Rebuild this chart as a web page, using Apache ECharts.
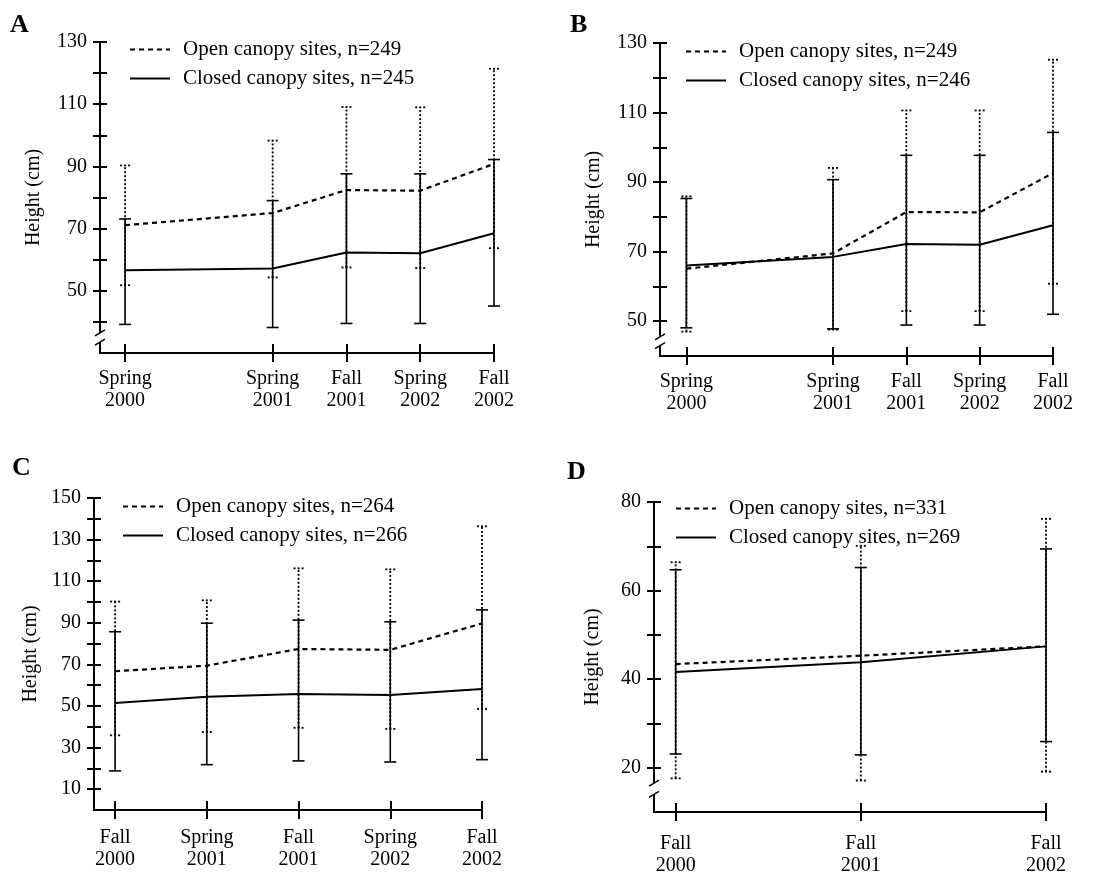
<!DOCTYPE html>
<html><head><meta charset="utf-8">
<script src="https://cdn.jsdelivr.net/npm/echarts@6/dist/echarts.min.js"></script>
<style>html,body{margin:0;padding:0;background:#fff}#c{width:1117px;height:877px}</style>
</head><body><div id="c"></div>
<script>
// ---------- Panel A ----------
const aTimes = [0, 2, 3, 4, 5];
const aLabels = ['Spring\n2000', 'Spring\n2001', 'Fall\n2001', 'Spring\n2002', 'Fall\n2002'];
const aOpenName = 'Open canopy sites, n=249';
const aClosedName = 'Closed canopy sites, n=245';
const aOpenMean = [71.1, 75.0, 82.4, 82.2, 90.8];
const aOpenLow = [51.8, 54.3, 57.5, 57.3, 63.7];
const aOpenHigh = [90.3, 98.3, 109.1, 109.0, 121.4];
const aClosedMean = [56.6, 57.2, 62.3, 62.1, 68.5];
const aClosedLow = [39.2, 38.2, 39.5, 39.5, 45.1];
const aClosedHigh = [73.1, 79.0, 87.6, 87.6, 92.2];
const aYTicks = [40, 50, 60, 70, 80, 90, 100, 110, 120, 130];
const aYLabels = [50, 70, 90, 110, 130];

// ---------- Panel B ----------
const bTimes = [0, 2, 3, 4, 5];
const bLabels = ['Spring\n2000', 'Spring\n2001', 'Fall\n2001', 'Spring\n2002', 'Fall\n2002'];
const bOpenName = 'Open canopy sites, n=249';
const bClosedName = 'Closed canopy sites, n=246';
const bOpenMean = [65.1, 69.5, 81.4, 81.3, 92.6];
const bOpenLow = [47.0, 47.6, 52.9, 52.9, 60.8];
const bOpenHigh = [85.9, 94.1, 110.6, 110.6, 125.2];
const bClosedMean = [66.0, 68.5, 72.2, 72.0, 77.6];
const bClosedLow = [48.1, 47.8, 48.9, 48.9, 52.0];
const bClosedHigh = [85.3, 90.7, 97.7, 97.7, 104.3];
const bYTicks = [50, 60, 70, 80, 90, 100, 110, 120, 130];
const bYLabels = [50, 70, 90, 110, 130];

// ---------- Panel C ----------
const cTimes = [0, 1, 2, 3, 4];
const cLabels = ['Fall\n2000', 'Spring\n2001', 'Fall\n2001', 'Spring\n2002', 'Fall\n2002'];
const cOpenName = 'Open canopy sites, n=264';
const cClosedName = 'Closed canopy sites, n=266';
const cOpenMean = [66.7, 69.4, 77.4, 77.0, 89.7];
const cOpenLow = [35.9, 37.5, 39.5, 39.0, 48.6];
const cOpenHigh = [100.2, 100.8, 116.2, 115.7, 136.4];
const cClosedMean = [51.5, 54.5, 55.8, 55.3, 58.2];
const cClosedLow = [18.8, 21.8, 23.6, 23.1, 24.2];
const cClosedHigh = [85.7, 89.8, 91.3, 90.5, 96.2];
const cYTicks = [10, 20, 30, 40, 50, 60, 70, 80, 90, 100, 110, 120, 130, 140, 150];
const cYLabels = [10, 30, 50, 70, 90, 110, 130, 150];

// ---------- Panel D ----------
const dTimes = [0, 2, 4];
const dLabels = ['Fall\n2000', 'Fall\n2001', 'Fall\n2002'];
const dOpenName = 'Open canopy sites, n=331';
const dClosedName = 'Closed canopy sites, n=269';
const dOpenMean = [43.4, 45.3, 47.4];
const dOpenLow = [17.6, 17.1, 19.1];
const dOpenHigh = [66.4, 70.1, 76.2];
const dClosedMean = [41.6, 43.8, 47.4];
const dClosedLow = [23.1, 22.9, 25.9];
const dClosedHigh = [64.7, 65.2, 69.4];
const dYTicks = [20, 30, 40, 50, 60, 70, 80];
const dYLabels = [20, 40, 60, 80];

const FONT = '"Liberation Serif", "DejaVu Serif", serif';

const panels = [
  { letter: 'A', times: aTimes, labels: aLabels, openName: aOpenName, closedName: aClosedName,
    om: aOpenMean, ol: aOpenLow, oh: aOpenHigh, cm: aClosedMean, cl: aClosedLow, ch: aClosedHigh,
    yTicks: aYTicks, yLabels: aYLabels, ymin: 30, ymax: 130, xmin: -0.34, xmax: 5, brk: [33.5, 36.5],
    grid: { left: 100, top: 42, width: 394, height: 311 }, letterPos: [10, 12],
    legendPos: [129, 39], nameGap: 56, labelMargin: 15 },
  { letter: 'B', times: bTimes, labels: bLabels, openName: bOpenName, closedName: bClosedName,
    om: bOpenMean, ol: bOpenLow, oh: bOpenHigh, cm: bClosedMean, cl: bClosedLow, ch: bClosedHigh,
    yTicks: bYTicks, yLabels: bYLabels, ymin: 40, ymax: 130, xmin: -0.36, xmax: 5, brk: [43, 45.5],
    grid: { left: 660, top: 43, width: 393, height: 313 }, letterPos: [570, 12],
    legendPos: [685, 41], nameGap: 56, labelMargin: 15 },
  { letter: 'C', times: cTimes, labels: cLabels, openName: cOpenName, closedName: cClosedName,
    om: cOpenMean, ol: cOpenLow, oh: cOpenHigh, cm: cClosedMean, cl: cClosedLow, ch: cClosedHigh,
    yTicks: cYTicks, yLabels: cYLabels, ymin: 0, ymax: 150, xmin: -0.23, xmax: 4, brk: null,
    grid: { left: 94, top: 498, width: 388, height: 312 }, letterPos: [12, 455],
    legendPos: [122, 496], nameGap: 53, labelMargin: 17 },
  { letter: 'D', times: dTimes, labels: dLabels, openName: dOpenName, closedName: dClosedName,
    om: dOpenMean, ol: dOpenLow, oh: dOpenHigh, cm: dClosedMean, cl: dClosedLow, ch: dClosedHigh,
    yTicks: dYTicks, yLabels: dYLabels, ymin: 10, ymax: 80, xmin: -0.234, xmax: 4, brk: [14, 16.5],
    grid: { left: 654, top: 502, width: 392, height: 310 }, letterPos: [567, 459],
    legendPos: [675, 498], nameGap: 51, labelMargin: 21 }
];

function errRender(dotted) {
  return function (params, api) {
    const x = api.value(0), lo = api.value(1), hi = api.value(2);
    const pLo = api.coord([x, lo]), pHi = api.coord([x, hi]);
    const w = dotted ? 5 : 6;
    const style = { stroke: '#000', lineWidth: dotted ? 1.8 : 1.6, lineDash: dotted ? [2, 2] : null, fill: null };
    return { type: 'group', children: [
      { type: 'line', shape: { x1: pLo[0], y1: pLo[1], x2: pHi[0], y2: pHi[1] }, style: style },
      { type: 'line', shape: { x1: pLo[0] - w, y1: pLo[1], x2: pLo[0] + w, y2: pLo[1] }, style: style },
      { type: 'line', shape: { x1: pHi[0] - w, y1: pHi[1], x2: pHi[0] + w, y2: pHi[1] }, style: style }
    ]};
  };
}

const option = { animation: false, backgroundColor: '#fff', grid: [], xAxis: [], yAxis: [], series: [], legend: [], title: [] };

panels.forEach(function (p, i) {
  option.grid.push(Object.assign({ containLabel: false, outerBoundsMode: 'none' }, p.grid));
  const labelMap = {};
  p.times.forEach(function (t, k) { labelMap[t] = p.labels[k]; });
  // main x axis (outside ticks + labels)
  option.xAxis.push({
    type: 'value', gridIndex: i, position: 'bottom', offset: 0, min: p.xmin, max: p.xmax, splitLine: { show: false },
    axisLine: { show: true, onZero: false, lineStyle: { color: '#000', width: 2 } },
    axisTick: { show: true, customValues: p.times, length: 9, lineStyle: { color: '#000', width: 2 } },
    axisLabel: { show: true, customValues: p.times, margin: p.labelMargin, color: '#000',
      fontFamily: FONT, fontSize: 20, lineHeight: 22, formatter: function (v) { return labelMap[v] || ''; } }
  });
  // inner x axis (inside ticks)
  option.xAxis.push({
    type: 'value', gridIndex: i, position: 'bottom', offset: 0, min: p.xmin, max: p.xmax, splitLine: { show: false },
    axisLine: { show: false, onZero: false },
    axisTick: { show: true, inside: true, customValues: p.times, length: 9, lineStyle: { color: '#000', width: 2 } },
    axisLabel: { show: false }
  });
  option.yAxis.push({
    type: 'value', gridIndex: i, position: 'left', offset: 0, min: p.ymin, max: p.ymax, splitLine: { show: false },
    name: 'Height (cm)', nameLocation: 'middle', nameGap: p.nameGap,
    nameTextStyle: { fontFamily: FONT, fontSize: 20, color: '#000' },
    axisLine: { show: true, onZero: false, lineStyle: { color: '#000', width: 2 } },
    axisTick: { show: true, customValues: p.yTicks, length: 7, lineStyle: { color: '#000', width: 2 } },
    axisLabel: { show: true, customValues: p.yLabels, margin: 13, color: '#000', fontFamily: FONT, fontSize: 20 }
  });
  option.yAxis.push({
    type: 'value', gridIndex: i, position: 'left', offset: 0, min: p.ymin, max: p.ymax, splitLine: { show: false },
    axisLine: { show: false, onZero: false },
    axisTick: { show: true, inside: true, customValues: p.yTicks, length: 7, lineStyle: { color: '#000', width: 2 } },
    axisLabel: { show: false }
  });
  const xi = i * 2, yi = i * 2;
  const openErr = p.times.map(function (t, k) { return [t, p.ol[k], p.oh[k]]; });
  const closedErr = p.times.map(function (t, k) { return [t, p.cl[k], p.ch[k]]; });
  option.series.push({
    type: 'custom', xAxisIndex: xi, yAxisIndex: yi, renderItem: errRender(true), data: openErr,
    encode: { x: 0, y: [1, 2] }, clip: false, z: 2, silent: true
  });
  option.series.push({
    type: 'custom', xAxisIndex: xi, yAxisIndex: yi, renderItem: errRender(false), data: closedErr,
    encode: { x: 0, y: [1, 2] }, clip: false, z: 3, silent: true
  });
  option.series.push({
    type: 'line', name: p.openName, xAxisIndex: xi, yAxisIndex: yi, symbol: 'none', showSymbol: false, z: 4,
    data: p.times.map(function (t, k) { return [t, p.om[k]]; }),
    lineStyle: { color: '#000', width: 2.2, type: [5, 4] }, itemStyle: { color: '#000' }
  });
  option.series.push({
    type: 'line', name: p.closedName, xAxisIndex: xi, yAxisIndex: yi, symbol: 'none', showSymbol: false, z: 5,
    data: p.times.map(function (t, k) { return [t, p.cm[k]]; }),
    lineStyle: { color: '#000', width: 2, type: 'solid' }, itemStyle: { color: '#000' }
  });
  option.legend.push({
    data: [p.openName, p.closedName], orient: 'vertical', left: p.legendPos[0], top: p.legendPos[1],
    itemWidth: 40, itemHeight: 20, itemGap: 8, padding: 0, selectedMode: false,
    itemStyle: { opacity: 0 },
    lineStyle: { color: '#000' },
    textStyle: { fontFamily: FONT, fontSize: 21, color: '#000', padding: [0, 0, 0, 8] }
  });
  option.title.push({
    text: p.letter, left: p.letterPos[0], top: p.letterPos[1], padding: 0,
    textStyle: { fontFamily: FONT, fontSize: 26, fontWeight: 'bold', color: '#000' }
  });
});

const chart = echarts.init(document.getElementById('c'), null, { renderer: 'canvas' });
chart.setOption(option);

// axis-break decorations computed through the axes
const graphics = [];
panels.forEach(function (p, i) {
  if (!p.brk) return;
  const finder = { xAxisIndex: i * 2, yAxisIndex: i * 2 };
  const pLo = chart.convertToPixel(finder, [p.xmin, p.brk[0]]);
  const pHi = chart.convertToPixel(finder, [p.xmin, p.brk[1]]);
  graphics.push({ type: 'rect', shape: { x: pLo[0] - 4, y: pHi[1], width: 8, height: pLo[1] - pHi[1] },
    style: { fill: '#fff' }, z: 100 });
  [pLo, pHi].forEach(function (pt) {
    graphics.push({ type: 'line', shape: { x1: pt[0] - 5, y1: pt[1] + 3, x2: pt[0] + 5, y2: pt[1] - 3 },
      style: { stroke: '#000', lineWidth: 1.5 }, z: 101 });
  });
});
chart.setOption({ graphic: graphics });
</script></body></html>
